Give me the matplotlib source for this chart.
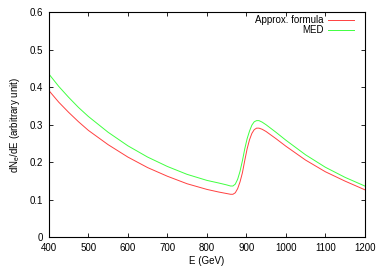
import numpy as np
import matplotlib
matplotlib.use("Agg")
import matplotlib.pyplot as plt

plt.rcParams['font.family'] = ['Liberation Sans', 'DejaVu Sans']
plt.rcParams['mathtext.default'] = 'regular'

# values
energy = [400, 425, 450, 475, 500, 550, 600, 650, 700, 750, 800, 830, 850, 860,
          866, 872, 878, 884, 890, 896, 902, 908, 914, 920, 926, 932, 940, 950,
          975, 1000, 1050, 1100, 1150, 1200]
approx = [0.391, 0.360, 0.333, 0.308, 0.285, 0.247, 0.214, 0.186, 0.163, 0.143,
          0.128, 0.121, 0.117, 0.115, 0.115, 0.119, 0.130, 0.148, 0.172, 0.205,
          0.236, 0.260, 0.277, 0.287, 0.291, 0.291, 0.288, 0.282, 0.263, 0.243,
          0.206, 0.175, 0.150, 0.127]
med = [0.435, 0.402, 0.373, 0.346, 0.322, 0.280, 0.244, 0.214, 0.189, 0.168,
       0.152, 0.145, 0.140, 0.137, 0.137, 0.142, 0.155, 0.176, 0.204, 0.236,
       0.263, 0.283, 0.299, 0.308, 0.311, 0.311, 0.307, 0.300, 0.280, 0.259,
       0.220, 0.187, 0.160, 0.137]

xticks = [400, 500, 600, 700, 800, 900, 1000, 1100, 1200]
yticks = [0, 0.1, 0.2, 0.3, 0.4, 0.5, 0.6]
ylabels = ['0', '0.1', '0.2', '0.3', '0.4', '0.5', '0.6']

fig = plt.figure(figsize=(3.82, 2.67), dpi=100)
ax = fig.add_axes([0.128, 0.1105, 0.827, 0.8445])

ax.plot(energy, approx, color='#ff4040', lw=0.7, label='Approx. formula')
ax.plot(energy, med, color='#40ff40', lw=0.7, label='MED')

ax.set_xlim(400, 1200)
ax.set_ylim(0, 0.6)
ax.set_xticks(xticks)
ax.set_yticks(yticks)
ax.set_yticklabels(ylabels)
ax.tick_params(direction='in', top=True, right=True, length=3, width=0.6,
               labelsize=7, pad=4)
for s in ax.spines.values():
    s.set_linewidth(0.8)

ax.set_xlabel('E (GeV)', fontsize=7, labelpad=2)
ax.set_ylabel('dN$_e$/dE (arbitrary unit)', fontsize=7, labelpad=6)

ax.legend(loc='upper right', bbox_to_anchor=(0.995, 1.025), frameon=False,
          markerfirst=False, fontsize=7, handlelength=2.7, handletextpad=0.5,
          labelspacing=0.0, borderpad=0.4)

fig.savefig('out.png', dpi=100)
